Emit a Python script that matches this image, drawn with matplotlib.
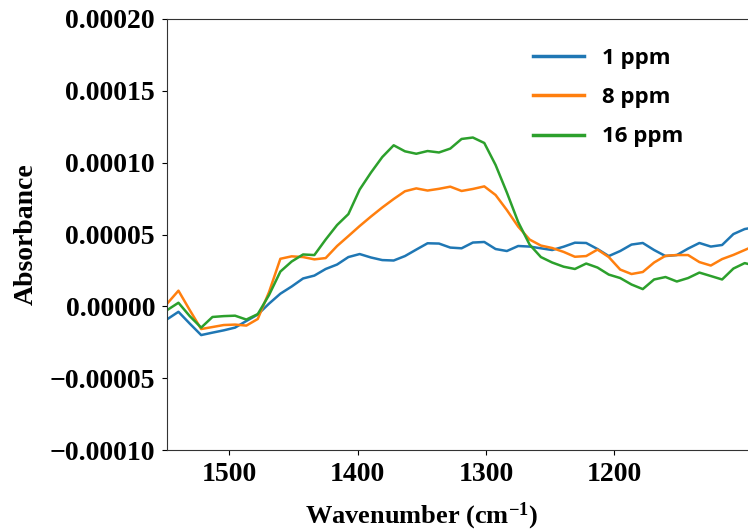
import matplotlib
matplotlib.use("Agg")
import matplotlib.pyplot as plt

# wavenumber axis (cm^-1), shared by all three spectra
wavenumber = [1548.5, 1539.7, 1530.9, 1522.0, 1513.2, 1504.4, 1495.6, 1486.8,
              1477.9, 1469.1, 1460.3, 1451.5, 1442.6, 1433.8, 1425.0, 1416.1,
              1407.3, 1398.5, 1389.7, 1380.9, 1372.0, 1363.2, 1354.4, 1345.6,
              1336.7, 1327.9, 1319.1, 1310.3, 1301.4, 1292.6, 1283.8, 1275.0,
              1266.1, 1257.3, 1248.5, 1239.6, 1230.8, 1222.0, 1213.2, 1204.4,
              1195.5, 1186.7, 1177.9, 1169.1, 1160.2, 1151.4, 1142.6, 1133.8,
              1124.9, 1116.1, 1107.3, 1098.5, 1089.6]

# absorbance in units of 1e-5
abs_1ppm = [-0.90, -0.38, -1.20, -2.00, -1.83, -1.67, -1.48, -1.02,
            -0.57, 0.19, 0.88, 1.38, 1.94, 2.14, 2.60, 2.91,
            3.43, 3.64, 3.40, 3.22, 3.19, 3.50, 3.95, 4.39,
            4.37, 4.09, 4.04, 4.44, 4.48, 3.99, 3.85, 4.20,
            4.16, 4.04, 3.92, 4.15, 4.43, 4.41, 3.99, 3.50,
            3.85, 4.30, 4.41, 3.92, 3.50, 3.57, 4.02, 4.41,
            4.16, 4.27, 5.03, 5.38, 5.52]
abs_8ppm = [0.19, 1.09, -0.26, -1.58, -1.44, -1.30, -1.27, -1.34,
            -0.88, 1.00, 3.31, 3.48, 3.43, 3.27, 3.36, 4.20,
            4.89, 5.59, 6.25, 6.88, 7.47, 8.01, 8.21, 8.06,
            8.18, 8.33, 8.03, 8.17, 8.35, 7.75, 6.70, 5.55,
            4.65, 4.23, 4.06, 3.79, 3.45, 3.50, 3.95, 3.43,
            2.56, 2.25, 2.39, 3.05, 3.52, 3.57, 3.57, 3.08,
            2.84, 3.29, 3.58, 3.92, 4.27]
abs_16ppm = [-0.26, 0.25, -0.68, -1.48, -0.74, -0.68, -0.65, -0.92,
             -0.54, 0.79, 2.42, 3.12, 3.61, 3.57, 4.65, 5.66,
             6.42, 8.13, 9.31, 10.39, 11.21, 10.79, 10.62, 10.81,
             10.71, 10.98, 11.65, 11.75, 11.37, 9.84, 7.92, 5.87,
             4.30, 3.43, 3.05, 2.76, 2.60, 2.98, 2.70, 2.21,
             1.97, 1.52, 1.20, 1.87, 2.04, 1.73, 1.97, 2.35,
             2.11, 1.87, 2.63, 3.01, 2.81]

labels = ["1 ppm", "8 ppm", "16 ppm"]
colors = ["#1f77b4", "#ff7f0e", "#2ca02c"]

plt.rcParams["font.family"] = "Liberation Serif"
plt.rcParams["font.weight"] = "bold"
plt.rcParams["mathtext.fontset"] = "custom"
plt.rcParams["mathtext.rm"] = "Liberation Serif:bold"
plt.rcParams["mathtext.it"] = "Liberation Serif:bold"
plt.rcParams["mathtext.bf"] = "Liberation Serif:bold"
plt.rcParams["mathtext.default"] = "rm"

fig = plt.figure(figsize=(7.48, 5.32), dpi=100)
# right edge of the axes runs past the figure
ax = fig.add_axes([0.2233, 0.1541, 0.8555, 0.8102])

for ys, lab, c in zip([abs_1ppm, abs_8ppm, abs_16ppm], labels, colors):
    ax.plot(wavenumber, [v * 1e-5 for v in ys], color=c, lw=1.8, label=lab)

ax.set_xlim(1548.6, 1050)
ax.set_ylim(-0.0001, 0.0002)
ax.set_xticks([1500, 1400, 1300, 1200])
ax.set_yticks([-0.0001, -0.00005, 0, 0.00005, 0.0001, 0.00015, 0.0002])
ax.set_yticklabels(["\u22120.00010", "\u22120.00005", "0.00000", "0.00005",
                    "0.00010", "0.00015", "0.00020"])
ax.tick_params(labelsize=20, length=3.8, pad=4.8)
ax.spines["right"].set_visible(False)
for s in ax.spines.values():
    s.set_color("#333333")

ax.set_ylabel("Absorbance", fontsize=20, fontweight="bold")
ax.set_xlabel("Wavenumber (cm$^{-1}$)", fontsize=19, fontweight="bold")
ax.yaxis.set_label_coords(-0.2, 0.5)
ax.xaxis.set_label_coords(0.397, -0.117)

leg = ax.legend(loc="upper left", bbox_to_anchor=(533 / 748, 1 - 48 / 532),
                bbox_transform=fig.transFigure, frameon=False,
                borderpad=0, borderaxespad=0, handlelength=2.3,
                handletextpad=0.8, labelspacing=0.82,
                prop={"family": "Open Sans", "weight": "bold", "size": 16})
for h in leg.get_lines():
    h.set_linewidth(2.5)

fig.savefig("out.png", dpi=100)
